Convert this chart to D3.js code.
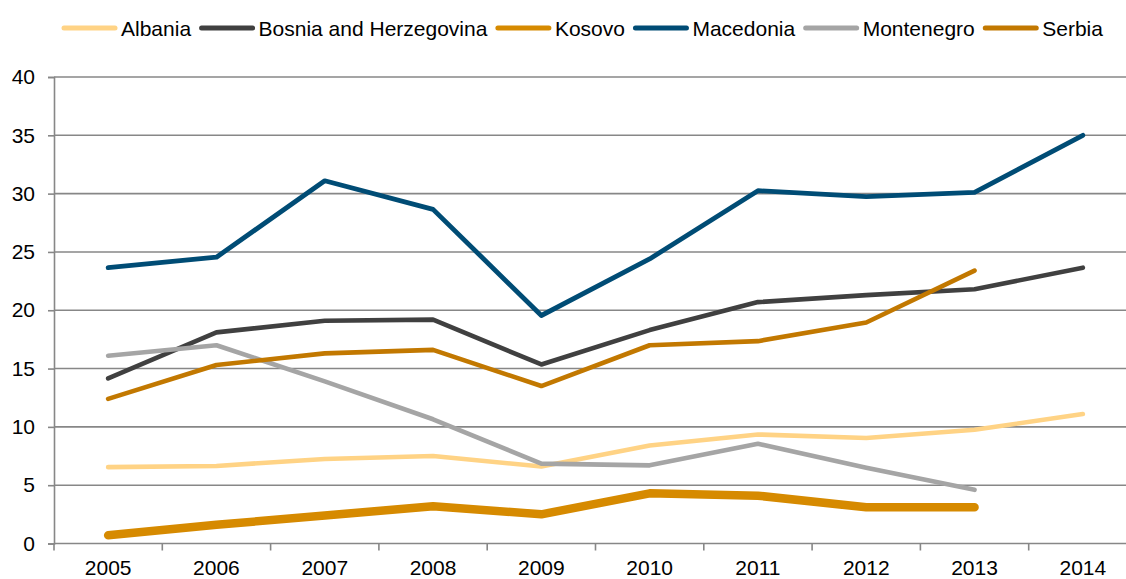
<!DOCTYPE html>
<html>
<head>
<meta charset="utf-8">
<script src="https://cdn.jsdelivr.net/npm/d3@7"></script>
<style>
  html, body { margin: 0; padding: 0; background: #fff; }
  svg { display: block; font-family: "Liberation Sans", Arial, sans-serif; }
</style>
</head>
<body>
<svg id="chart" width="1126" height="579"></svg>
<script>
// Years on the horizontal axis
const years = ["2005", "2006", "2007", "2008", "2009", "2010", "2011", "2012", "2013", "2014"];
const yTicks = [0, 5, 10, 15, 20, 25, 30, 35, 40];

// Series values per year (null = no data)
const albania    = [6.55, 6.65, 7.25, 7.5, 6.6, 8.4, 9.35, 9.05, 9.75, 11.1];
const bosnia     = [14.15, 18.1, 19.1, 19.2, 15.35, 18.3, 20.7, 21.3, 21.8, 23.65];
const kosovo     = [0.7, 1.6, 2.4, 3.2, 2.5, 4.3, 4.1, 3.1, 3.1, null];
const macedonia  = [23.65, 24.55, 31.1, 28.65, 19.55, 24.4, 30.25, 29.75, 30.1, 35.0];
const montenegro = [16.1, 17.0, 13.9, 10.65, 6.85, 6.7, 8.55, 6.5, 4.6, null];
const serbia     = [12.4, 15.3, 16.3, 16.6, 13.5, 17.0, 17.35, 18.95, 23.4, null];

const seriesNames = ["Albania", "Bosnia and Herzegovina", "Kosovo", "Macedonia", "Montenegro", "Serbia"];
const seriesValues = [albania, bosnia, kosovo, macedonia, montenegro, serbia];
const seriesColors = ["#FFD385", "#404040", "#D68A00", "#004C75", "#A5A5A5", "#C27800"];
const seriesWidths = [4.6, 4.6, 8.5, 4.8, 4.6, 4.6];

const svg = d3.select("#chart");
const W = 1126;
const plotLeft = 54, plotTop = 77, plotBottom = 543.5;
const band = 108.3;
const fontSize = 21;

const x = d3.scaleBand().domain(years).range([plotLeft, plotLeft + band * years.length]).padding(0);
const y = d3.scaleLinear().domain([0, 40]).range([plotBottom, plotTop]);
const axisColor = "#878787";

// Horizontal gridlines
svg.append("g")
  .selectAll("line")
  .data(yTicks.filter(d => d > 0))
  .join("line")
  .attr("x1", plotLeft).attr("x2", W)
  .attr("y1", d => y(d)).attr("y2", d => y(d))
  .attr("stroke", axisColor).attr("stroke-width", 1.6);

// Y axis
const yAxis = svg.append("g")
  .attr("transform", `translate(${plotLeft},0)`)
  .call(d3.axisLeft(y).tickValues(yTicks).tickSize(6).tickPadding(13));
yAxis.select(".domain").attr("stroke", axisColor).attr("stroke-width", 1.6);
yAxis.selectAll(".tick line").attr("stroke", axisColor).attr("stroke-width", 1.6);
yAxis.selectAll(".tick text").attr("font-size", fontSize).attr("fill", "#000")
  .attr("font-family", "'Liberation Sans', Arial, sans-serif");

// X axis with tick marks on category boundaries
const xAxis = svg.append("g").attr("transform", `translate(0,${plotBottom})`);
xAxis.append("line")
  .attr("x1", plotLeft).attr("x2", W)
  .attr("stroke", axisColor).attr("stroke-width", 1.6);
xAxis.selectAll("line.tk")
  .data(years)
  .join("line")
  .attr("class", "tk")
  .attr("x1", d => x(d)).attr("x2", d => x(d))
  .attr("y1", 0).attr("y2", 7)
  .attr("stroke", axisColor).attr("stroke-width", 1.6);
xAxis.selectAll("text")
  .data(years)
  .join("text")
  .attr("x", d => x(d) + x.bandwidth() / 2)
  .attr("y", 31.5)
  .attr("text-anchor", "middle")
  .attr("font-size", fontSize)
  .attr("fill", "#000")
  .text(d => d);

// Series lines
const line = d3.line()
  .defined(d => d.v != null)
  .x(d => x(d.year) + x.bandwidth() / 2)
  .y(d => y(d.v));

svg.append("g")
  .selectAll("path")
  .data(seriesValues.map((vals, i) => ({ i, pts: vals.map((v, j) => ({ year: years[j], v })) })))
  .join("path")
  .attr("d", d => line(d.pts))
  .attr("fill", "none")
  .attr("stroke", d => seriesColors[d.i])
  .attr("stroke-width", d => seriesWidths[d.i])
  .attr("stroke-linejoin", "round")
  .attr("stroke-linecap", "round");

// Legend: swatch, label, repeated left to right
const legend = svg.append("g");
const swatchLen = 56, swatchW = 5, legendY = 28;
let sx = 61.5;
seriesNames.forEach((name, i) => {
  const g = legend.append("g");
  g.append("line")
    .attr("x1", sx + swatchW / 2).attr("x2", sx + swatchLen - swatchW / 2)
    .attr("y1", legendY).attr("y2", legendY)
    .attr("stroke", seriesColors[i])
    .attr("stroke-width", swatchW)
    .attr("stroke-linecap", "round");
  const tx = sx + swatchLen + 3.5;
  const t = g.append("text")
    .attr("x", tx)
    .attr("y", legendY + 7.5)
    .attr("font-size", fontSize)
    .attr("fill", "#000")
    .text(name);
  sx = tx + t.node().getComputedTextLength() + 8;
});
</script>
</body>
</html>
